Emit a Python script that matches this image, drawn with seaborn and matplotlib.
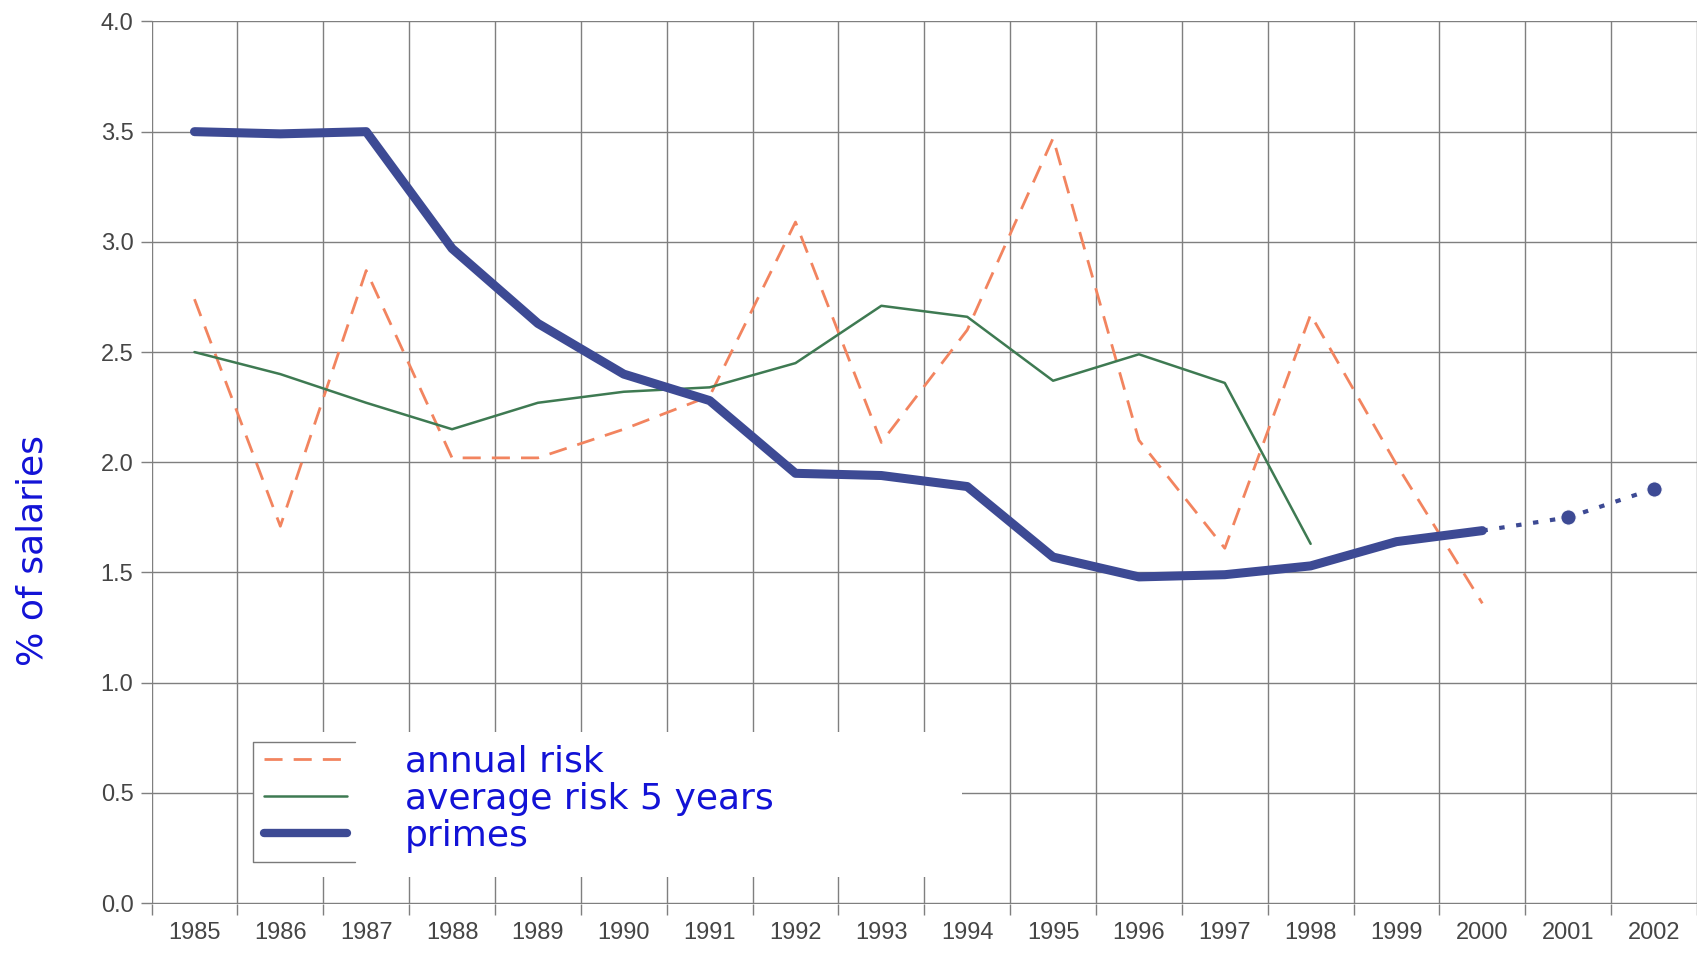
import matplotlib
matplotlib.use("Agg")
import matplotlib.pyplot as plt
from matplotlib.lines import Line2D
from matplotlib.patches import Rectangle
import seaborn as sns
import pandas as pd

# data
years = [1985, 1986, 1987, 1988, 1989, 1990, 1991, 1992,
         1993, 1994, 1995, 1996, 1997, 1998, 1999, 2000]
annual_risk = [2.74, 1.71, 2.87, 2.02, 2.02, 2.15, 2.30, 3.09,
               2.09, 2.60, 3.47, 2.10, 1.61, 2.67, 1.99, 1.36]
avg_years = years[:14]
avg_risk_5y = [2.50, 2.40, 2.27, 2.15, 2.27, 2.32, 2.34, 2.45,
               2.71, 2.66, 2.37, 2.49, 2.36, 1.63]
primes = [3.50, 3.49, 3.50, 2.97, 2.63, 2.40, 2.28, 1.95,
          1.94, 1.89, 1.57, 1.48, 1.49, 1.53, 1.64, 1.69]
forecast_years = [2000, 2001, 2002]
primes_forecast = [1.69, 1.75, 1.88]
all_years = list(range(1985, 2003))
y_ticks = [0.0, 0.5, 1.0, 1.5, 2.0, 2.5, 3.0, 3.5, 4.0]

df_annual = pd.DataFrame({"year": years, "value": annual_risk})
df_avg = pd.DataFrame({"year": avg_years, "value": avg_risk_5y})
df_primes = pd.DataFrame({"year": years, "value": primes})
df_fc = pd.DataFrame({"year": forecast_years, "value": primes_forecast})

C_ANNUAL = "#f2845f"
C_AVG = "#3e7a52"
C_PRIMES = "#3d4a94"
C_TEXT = "#1212d6"
C_GRID = "#7f7f7f"
C_TICK = "#454545"
DASH = [6.5, 4]

sns.set_style("white")
plt.rcParams["font.family"] = ["Liberation Sans", "DejaVu Sans"]

fig = plt.figure(figsize=(16.97, 9.61), dpi=100)
ax = fig.add_axes([0.0893, 0.0593, 0.9107, 0.9193])

sns.lineplot(data=df_annual, x="year", y="value", ax=ax, color=C_ANNUAL,
             linewidth=2.0, zorder=3)
ax.lines[-1].set_dashes(DASH)
sns.lineplot(data=df_avg, x="year", y="value", ax=ax, color=C_AVG,
             linewidth=1.8, zorder=3)
sns.lineplot(data=df_primes, x="year", y="value", ax=ax, color=C_PRIMES,
             linewidth=6.5, zorder=4)
ax.lines[-1].set_solid_capstyle("round")
ax.lines[-1].set_solid_joinstyle("round")
sns.lineplot(data=df_fc, x="year", y="value", ax=ax, color=C_PRIMES,
             linewidth=3, zorder=4)
fc_line = ax.lines[-1]
fc_line.set_linestyle((0, (1.3, 2.8)))
fc_line.set_marker("o")
fc_line.set_markersize(11)
fc_line.set_markevery([1, 2])

# axes and grid
ax.set_xlim(1984.5, 2002.46)
ax.set_ylim(-0.004, 4.004)
for s in ax.spines.values():
    s.set_visible(False)

ax.set_yticks(y_ticks)
ax.set_yticklabels([f"{v:.1f}" for v in y_ticks])
ax.set_xticks([y - 0.5 for y in all_years] + [2002.5])
ax.set_xticklabels([])
ax.set_xticks(all_years, minor=True)
ax.set_xticklabels([str(y) for y in all_years], minor=True)
ax.tick_params(axis="y", which="major", length=8, width=1, color=C_GRID,
               labelsize=17, labelcolor=C_TICK, pad=5, left=True)
ax.tick_params(axis="x", which="major", length=8, width=1, color=C_GRID,
               direction="out", bottom=True)
ax.tick_params(axis="x", which="minor", length=0, labelsize=17,
               labelcolor=C_TICK, pad=13)
ax.grid(True, which="major", color=C_GRID, linewidth=1.0)
ax.set_axisbelow(True)

ax.set_xlabel("")
ax.set_ylabel("% of salaries", fontsize=26, color=C_TEXT,
              family=["DejaVu Sans"])
ax.yaxis.set_label_coords(-0.066, 0.40)

# legend: white block hiding the grid, partial grey box round the keys
ax.add_patch(Rectangle((0.0657, 0.031), 0.459, 0.164, transform=ax.transAxes,
                       facecolor="white", edgecolor="none", zorder=2))
ax.add_line(Line2D([0.1315, 0.0657, 0.0657, 0.1315],
                   [0.183, 0.183, 0.047, 0.047], transform=ax.transAxes,
                   color="#7a7a7a", linewidth=1.0, zorder=2.5))

handles = [
    Line2D([], [], color=C_ANNUAL, linewidth=2.0, dashes=DASH),
    Line2D([], [], color=C_AVG, linewidth=1.8),
    Line2D([], [], color=C_PRIMES, linewidth=6, solid_capstyle="round"),
]
labels = ["annual risk", "average risk 5 years", "primes"]
leg = ax.legend(handles, labels, loc="upper left",
                bbox_to_anchor=(0.0728, 0.18), frameon=False,
                borderpad=0, borderaxespad=0, handlelength=2.3,
                handletextpad=1.6, labelspacing=0.08,
                prop={"family": "DejaVu Sans", "size": 26})
leg.set_zorder(5)
for t in leg.get_texts():
    t.set_color(C_TEXT)

fig.savefig("out.png", dpi=100)
